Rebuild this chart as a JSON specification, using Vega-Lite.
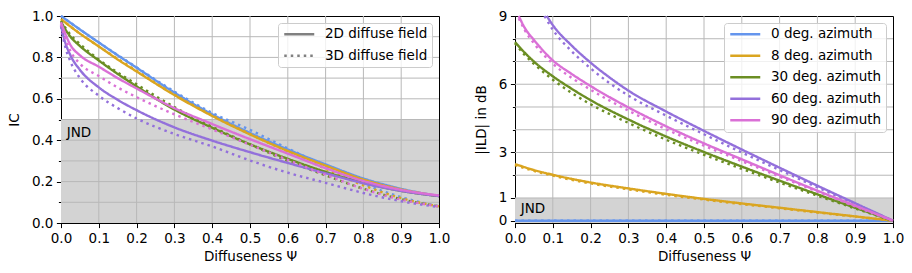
{
  "$schema": "https://vega.github.io/schema/vega-lite/v6.json",
  "padding": {"left": 6, "top": 8, "right": 0, "bottom": 0},
  "background": "white",
  "config": {
    "font": "DejaVu Sans",
    "view": {"stroke": "black", "strokeWidth": 1},
    "axis": {"labelFont": "DejaVu Sans", "labelFontSize": 13.5, "titleFont": "DejaVu Sans", "titleFontSize": 13.5, "titleFontWeight": "normal", "labelColor": "black", "titleColor": "black", "domainColor": "black", "tickColor": "black", "grid": false, "tickSize": 4.6, "labelPadding": 3.5, "domainWidth": 1, "tickWidth": 1, "labelOverlap": false},
    "legend": {"labelFont": "DejaVu Sans", "labelFontSize": 13.5, "labelColor": "black", "symbolType": "M-3,0H3", "symbolStrokeWidth": 2.5, "symbolSize": 100, "symbolOffset": 10, "rowPadding": 6.5, "padding": 4.5, "fillColor": "rgba(255,255,255,0.8)", "strokeColor": "#cccccc", "cornerRadius": 3, "labelOffset": 19, "offset": 7}
  },
  "datasets": {
    "ic": [
      {"a":0,"t":"2D","x":0,"y":1.0},{"a":0,"t":"2D","x":0.05,"y":0.935},{"a":0,"t":"2D","x":0.1,"y":0.872},{"a":0,"t":"2D","x":0.15,"y":0.81},{"a":0,"t":"2D","x":0.2,"y":0.75},{"a":0,"t":"2D","x":0.3,"y":0.63},{"a":0,"t":"2D","x":0.4,"y":0.525},{"a":0,"t":"2D","x":0.5,"y":0.435},{"a":0,"t":"2D","x":0.6,"y":0.355},{"a":0,"t":"2D","x":0.7,"y":0.283},{"a":0,"t":"2D","x":0.8,"y":0.215},{"a":0,"t":"2D","x":0.9,"y":0.165},{"a":0,"t":"2D","x":1,"y":0.13},
      {"a":0,"t":"3D","x":0,"y":1.0},{"a":0,"t":"3D","x":0.05,"y":0.935},{"a":0,"t":"3D","x":0.1,"y":0.872},{"a":0,"t":"3D","x":0.2,"y":0.752},{"a":0,"t":"3D","x":0.3,"y":0.635},{"a":0,"t":"3D","x":0.4,"y":0.532},{"a":0,"t":"3D","x":0.5,"y":0.45},{"a":0,"t":"3D","x":0.6,"y":0.36},{"a":0,"t":"3D","x":0.7,"y":0.275},{"a":0,"t":"3D","x":0.8,"y":0.19},{"a":0,"t":"3D","x":0.9,"y":0.125},{"a":0,"t":"3D","x":1,"y":0.08},
      {"a":8,"t":"2D","x":0,"y":0.985},{"a":8,"t":"2D","x":0.05,"y":0.915},{"a":8,"t":"2D","x":0.1,"y":0.853},{"a":8,"t":"2D","x":0.15,"y":0.79},{"a":8,"t":"2D","x":0.2,"y":0.732},{"a":8,"t":"2D","x":0.3,"y":0.618},{"a":8,"t":"2D","x":0.4,"y":0.517},{"a":8,"t":"2D","x":0.5,"y":0.428},{"a":8,"t":"2D","x":0.6,"y":0.348},{"a":8,"t":"2D","x":0.7,"y":0.277},{"a":8,"t":"2D","x":0.8,"y":0.21},{"a":8,"t":"2D","x":0.9,"y":0.162},{"a":8,"t":"2D","x":1,"y":0.13},
      {"a":8,"t":"3D","x":0,"y":0.985},{"a":8,"t":"3D","x":0.05,"y":0.915},{"a":8,"t":"3D","x":0.1,"y":0.853},{"a":8,"t":"3D","x":0.2,"y":0.735},{"a":8,"t":"3D","x":0.3,"y":0.62},{"a":8,"t":"3D","x":0.4,"y":0.52},{"a":8,"t":"3D","x":0.5,"y":0.43},{"a":8,"t":"3D","x":0.6,"y":0.345},{"a":8,"t":"3D","x":0.7,"y":0.262},{"a":8,"t":"3D","x":0.8,"y":0.182},{"a":8,"t":"3D","x":0.9,"y":0.12},{"a":8,"t":"3D","x":1,"y":0.08},
      {"a":30,"t":"2D","x":0,"y":0.975},{"a":30,"t":"2D","x":0.01,"y":0.94},{"a":30,"t":"2D","x":0.025,"y":0.9},{"a":30,"t":"2D","x":0.05,"y":0.855},{"a":30,"t":"2D","x":0.1,"y":0.785},{"a":30,"t":"2D","x":0.15,"y":0.72},{"a":30,"t":"2D","x":0.2,"y":0.66},{"a":30,"t":"2D","x":0.3,"y":0.548},{"a":30,"t":"2D","x":0.4,"y":0.46},{"a":30,"t":"2D","x":0.5,"y":0.38},{"a":30,"t":"2D","x":0.6,"y":0.31},{"a":30,"t":"2D","x":0.7,"y":0.247},{"a":30,"t":"2D","x":0.8,"y":0.194},{"a":30,"t":"2D","x":0.9,"y":0.155},{"a":30,"t":"2D","x":1,"y":0.13},
      {"a":30,"t":"3D","x":0,"y":0.975},{"a":30,"t":"3D","x":0.025,"y":0.91},{"a":30,"t":"3D","x":0.05,"y":0.865},{"a":30,"t":"3D","x":0.1,"y":0.79},{"a":30,"t":"3D","x":0.2,"y":0.67},{"a":30,"t":"3D","x":0.3,"y":0.56},{"a":30,"t":"3D","x":0.4,"y":0.465},{"a":30,"t":"3D","x":0.5,"y":0.38},{"a":30,"t":"3D","x":0.6,"y":0.3},{"a":30,"t":"3D","x":0.7,"y":0.23},{"a":30,"t":"3D","x":0.8,"y":0.165},{"a":30,"t":"3D","x":0.9,"y":0.115},{"a":30,"t":"3D","x":1,"y":0.08},
      {"a":60,"t":"2D","x":0,"y":0.955},{"a":60,"t":"2D","x":0.01,"y":0.88},{"a":60,"t":"2D","x":0.025,"y":0.81},{"a":60,"t":"2D","x":0.05,"y":0.74},{"a":60,"t":"2D","x":0.1,"y":0.655},{"a":60,"t":"2D","x":0.15,"y":0.595},{"a":60,"t":"2D","x":0.2,"y":0.545},{"a":60,"t":"2D","x":0.3,"y":0.462},{"a":60,"t":"2D","x":0.4,"y":0.398},{"a":60,"t":"2D","x":0.5,"y":0.342},{"a":60,"t":"2D","x":0.6,"y":0.29},{"a":60,"t":"2D","x":0.7,"y":0.24},{"a":60,"t":"2D","x":0.8,"y":0.192},{"a":60,"t":"2D","x":0.9,"y":0.155},{"a":60,"t":"2D","x":1,"y":0.13},
      {"a":60,"t":"3D","x":0,"y":0.95},{"a":60,"t":"3D","x":0.01,"y":0.86},{"a":60,"t":"3D","x":0.025,"y":0.78},{"a":60,"t":"3D","x":0.05,"y":0.7},{"a":60,"t":"3D","x":0.1,"y":0.615},{"a":60,"t":"3D","x":0.15,"y":0.555},{"a":60,"t":"3D","x":0.2,"y":0.505},{"a":60,"t":"3D","x":0.3,"y":0.43},{"a":60,"t":"3D","x":0.4,"y":0.37},{"a":60,"t":"3D","x":0.5,"y":0.302},{"a":60,"t":"3D","x":0.6,"y":0.243},{"a":60,"t":"3D","x":0.7,"y":0.194},{"a":60,"t":"3D","x":0.8,"y":0.145},{"a":60,"t":"3D","x":0.9,"y":0.105},{"a":60,"t":"3D","x":1,"y":0.077},
      {"a":90,"t":"2D","x":0,"y":0.97},{"a":90,"t":"2D","x":0.01,"y":0.92},{"a":90,"t":"2D","x":0.025,"y":0.86},{"a":90,"t":"2D","x":0.05,"y":0.81},{"a":90,"t":"2D","x":0.1,"y":0.755},{"a":90,"t":"2D","x":0.15,"y":0.7},{"a":90,"t":"2D","x":0.2,"y":0.65},{"a":90,"t":"2D","x":0.3,"y":0.555},{"a":90,"t":"2D","x":0.4,"y":0.478},{"a":90,"t":"2D","x":0.5,"y":0.405},{"a":90,"t":"2D","x":0.6,"y":0.335},{"a":90,"t":"2D","x":0.7,"y":0.265},{"a":90,"t":"2D","x":0.8,"y":0.203},{"a":90,"t":"2D","x":0.9,"y":0.16},{"a":90,"t":"2D","x":1,"y":0.133},
      {"a":90,"t":"3D","x":0,"y":0.96},{"a":90,"t":"3D","x":0.01,"y":0.9},{"a":90,"t":"3D","x":0.025,"y":0.83},{"a":90,"t":"3D","x":0.05,"y":0.77},{"a":90,"t":"3D","x":0.1,"y":0.71},{"a":90,"t":"3D","x":0.15,"y":0.655},{"a":90,"t":"3D","x":0.2,"y":0.608},{"a":90,"t":"3D","x":0.3,"y":0.525},{"a":90,"t":"3D","x":0.4,"y":0.452},{"a":90,"t":"3D","x":0.5,"y":0.378},{"a":90,"t":"3D","x":0.6,"y":0.305},{"a":90,"t":"3D","x":0.7,"y":0.233},{"a":90,"t":"3D","x":0.8,"y":0.165},{"a":90,"t":"3D","x":0.9,"y":0.113},{"a":90,"t":"3D","x":1,"y":0.08}
    ],
    "ild": [
      {"a":0,"t":"2D","x":0,"y":0},{"a":0,"t":"2D","x":0.5,"y":0},{"a":0,"t":"2D","x":1,"y":0},
      {"a":0,"t":"3D","x":0,"y":0},{"a":0,"t":"3D","x":0.5,"y":0},{"a":0,"t":"3D","x":1,"y":0},
      {"a":8,"t":"2D","x":0,"y":2.49},{"a":8,"t":"2D","x":0.05,"y":2.23},{"a":8,"t":"2D","x":0.1,"y":2.02},{"a":8,"t":"2D","x":0.2,"y":1.68},{"a":8,"t":"2D","x":0.3,"y":1.42},{"a":8,"t":"2D","x":0.4,"y":1.18},{"a":8,"t":"2D","x":0.5,"y":0.96},{"a":8,"t":"2D","x":0.6,"y":0.76},{"a":8,"t":"2D","x":0.7,"y":0.57},{"a":8,"t":"2D","x":0.8,"y":0.38},{"a":8,"t":"2D","x":0.9,"y":0.19},{"a":8,"t":"2D","x":1,"y":0},
      {"a":8,"t":"3D","x":0,"y":2.45},{"a":8,"t":"3D","x":0.05,"y":2.19},{"a":8,"t":"3D","x":0.1,"y":1.98},{"a":8,"t":"3D","x":0.2,"y":1.64},{"a":8,"t":"3D","x":0.3,"y":1.38},{"a":8,"t":"3D","x":0.4,"y":1.14},{"a":8,"t":"3D","x":0.5,"y":0.93},{"a":8,"t":"3D","x":0.6,"y":0.73},{"a":8,"t":"3D","x":0.7,"y":0.55},{"a":8,"t":"3D","x":0.8,"y":0.36},{"a":8,"t":"3D","x":0.9,"y":0.18},{"a":8,"t":"3D","x":1,"y":0},
      {"a":30,"t":"2D","x":0,"y":7.85},{"a":30,"t":"2D","x":0.025,"y":7.4},{"a":30,"t":"2D","x":0.05,"y":7.0},{"a":30,"t":"2D","x":0.1,"y":6.35},{"a":30,"t":"2D","x":0.15,"y":5.8},{"a":30,"t":"2D","x":0.2,"y":5.3},{"a":30,"t":"2D","x":0.3,"y":4.45},{"a":30,"t":"2D","x":0.4,"y":3.7},{"a":30,"t":"2D","x":0.5,"y":3.02},{"a":30,"t":"2D","x":0.6,"y":2.38},{"a":30,"t":"2D","x":0.7,"y":1.76},{"a":30,"t":"2D","x":0.8,"y":1.16},{"a":30,"t":"2D","x":0.9,"y":0.57},{"a":30,"t":"2D","x":1,"y":0},
      {"a":30,"t":"3D","x":0,"y":7.8},{"a":30,"t":"3D","x":0.025,"y":7.3},{"a":30,"t":"3D","x":0.05,"y":6.9},{"a":30,"t":"3D","x":0.1,"y":6.2},{"a":30,"t":"3D","x":0.15,"y":5.62},{"a":30,"t":"3D","x":0.2,"y":5.12},{"a":30,"t":"3D","x":0.3,"y":4.3},{"a":30,"t":"3D","x":0.4,"y":3.56},{"a":30,"t":"3D","x":0.5,"y":2.9},{"a":30,"t":"3D","x":0.6,"y":2.28},{"a":30,"t":"3D","x":0.7,"y":1.68},{"a":30,"t":"3D","x":0.8,"y":1.1},{"a":30,"t":"3D","x":0.9,"y":0.54},{"a":30,"t":"3D","x":1,"y":0},
      {"a":60,"t":"2D","x":0.084,"y":9.0},{"a":60,"t":"2D","x":0.1,"y":8.6},{"a":60,"t":"2D","x":0.15,"y":7.7},{"a":60,"t":"2D","x":0.2,"y":6.95},{"a":60,"t":"2D","x":0.25,"y":6.3},{"a":60,"t":"2D","x":0.3,"y":5.72},{"a":60,"t":"2D","x":0.4,"y":4.8},{"a":60,"t":"2D","x":0.5,"y":3.95},{"a":60,"t":"2D","x":0.6,"y":3.13},{"a":60,"t":"2D","x":0.7,"y":2.33},{"a":60,"t":"2D","x":0.8,"y":1.54},{"a":60,"t":"2D","x":0.9,"y":0.77},{"a":60,"t":"2D","x":1,"y":0},
      {"a":60,"t":"3D","x":0.078,"y":9.0},{"a":60,"t":"3D","x":0.1,"y":8.4},{"a":60,"t":"3D","x":0.15,"y":7.45},{"a":60,"t":"3D","x":0.2,"y":6.7},{"a":60,"t":"3D","x":0.25,"y":6.05},{"a":60,"t":"3D","x":0.3,"y":5.5},{"a":60,"t":"3D","x":0.4,"y":4.62},{"a":60,"t":"3D","x":0.5,"y":3.8},{"a":60,"t":"3D","x":0.6,"y":3.0},{"a":60,"t":"3D","x":0.7,"y":2.23},{"a":60,"t":"3D","x":0.8,"y":1.47},{"a":60,"t":"3D","x":0.9,"y":0.73},{"a":60,"t":"3D","x":1,"y":0},
      {"a":90,"t":"2D","x":0.01,"y":9.0},{"a":90,"t":"2D","x":0.025,"y":8.5},{"a":90,"t":"2D","x":0.05,"y":7.95},{"a":90,"t":"2D","x":0.1,"y":7.05},{"a":90,"t":"2D","x":0.15,"y":6.45},{"a":90,"t":"2D","x":0.2,"y":5.92},{"a":90,"t":"2D","x":0.3,"y":4.98},{"a":90,"t":"2D","x":0.4,"y":4.15},{"a":90,"t":"2D","x":0.5,"y":3.4},{"a":90,"t":"2D","x":0.6,"y":2.7},{"a":90,"t":"2D","x":0.7,"y":2.0},{"a":90,"t":"2D","x":0.8,"y":1.32},{"a":90,"t":"2D","x":0.9,"y":0.66},{"a":90,"t":"2D","x":1,"y":0},
      {"a":90,"t":"3D","x":0.01,"y":8.9},{"a":90,"t":"3D","x":0.025,"y":8.4},{"a":90,"t":"3D","x":0.05,"y":7.8},{"a":90,"t":"3D","x":0.1,"y":6.9},{"a":90,"t":"3D","x":0.15,"y":6.28},{"a":90,"t":"3D","x":0.2,"y":5.76},{"a":90,"t":"3D","x":0.3,"y":4.84},{"a":90,"t":"3D","x":0.4,"y":4.02},{"a":90,"t":"3D","x":0.5,"y":3.3},{"a":90,"t":"3D","x":0.6,"y":2.62},{"a":90,"t":"3D","x":0.7,"y":1.94},{"a":90,"t":"3D","x":0.8,"y":1.28},{"a":90,"t":"3D","x":0.9,"y":0.63},{"a":90,"t":"3D","x":1,"y":0}
    ],
    "gx": [{"v":0.1},{"v":0.2},{"v":0.3},{"v":0.4},{"v":0.5},{"v":0.6},{"v":0.7},{"v":0.8},{"v":0.9}],
    "gyl": [{"v":0.1},{"v":0.2},{"v":0.3},{"v":0.4},{"v":0.5},{"v":0.6},{"v":0.7},{"v":0.8},{"v":0.9}],
    "gyr": [{"v":1},{"v":2},{"v":3},{"v":4},{"v":5},{"v":6},{"v":7},{"v":8}]
  },
  "hconcat": [
    {
      "width": 378, "height": 207,
      "layer": [
        {"data": {"values": [{"x0":0,"x1":1,"y0":0,"y1":0.5}]}, "mark": {"type": "rect", "fill": "#d3d3d3"},
         "encoding": {
           "x": {"field": "x0", "type": "quantitative", "scale": {"domain": [0,1], "nice": false},
                 "axis": {"title": "Diffuseness Ψ", "values": [0,0.1,0.2,0.3,0.4,0.5,0.6,0.7,0.8,0.9,1.0], "tickCount": 30, "format": ".1f", "labelFlush": false, "labelOverlap": false, "titlePadding": 5}},
           "x2": {"field": "x1"},
           "y": {"field": "y0", "type": "quantitative", "scale": {"domain": [0,1], "nice": false},
                 "axis": {"title": "IC", "values": [0,0.1,0.2,0.3,0.4,0.5,0.6,0.7,0.8,0.9,1.0], "tickCount": 30, "labelExpr": "round(datum.value*10)%2==0 ? format(datum.value,'.1f') : ''", "tickSize": {"condition": {"test": "round(datum.value*10)%2==0", "value": 4.6}, "value": 2.6}, "labelFlush": false, "labelOverlap": false, "titlePadding": 10}},
           "y2": {"field": "y1"}}},
        {"data": {"name": "gx"}, "mark": {"type": "rule", "color": "#b8b8b8", "strokeWidth": 1}, "encoding": {"x": {"field": "v", "type": "quantitative"}}},
        {"data": {"name": "gyl"}, "mark": {"type": "rule", "color": "#b8b8b8", "strokeWidth": 1}, "encoding": {"y": {"field": "v", "type": "quantitative"}}},
        {"data": {"name": "ic"}, "mark": {"type": "line", "strokeWidth": 2.4, "interpolate": "monotone", "strokeCap": "butt"},
         "encoding": {
           "x": {"field": "x", "type": "quantitative"},
           "y": {"field": "y", "type": "quantitative"},
           "color": {"field": "a", "type": "ordinal", "scale": {"domain": [0,8,30,60,90], "range": ["#6495ED","#DAA520","#6B8E23","#9370DB","#DA70D6"]}, "legend": null},
           "strokeDash": {"field": "t", "type": "nominal", "scale": {"domain": ["2D","3D"], "range": [[1,0],[2.5,4]]},
                          "legend": {"title": null, "orient": "top-right", "labelExpr": "datum.label + ' diffuse field'", "symbolStrokeColor": "#808080"}},
           "order": {"field": "a", "type": "quantitative"}
         }},
        {"data": {"values": [{"x":0.015,"y":0.435,"s":"JND"}]}, "mark": {"type": "text", "align": "left", "baseline": "middle", "fontSize": 13.5, "font": "DejaVu Sans", "color": "black"},
         "encoding": {"x": {"field": "x", "type": "quantitative"}, "y": {"field": "y", "type": "quantitative"}, "text": {"field": "s"}}}
      ]
    },
    {
      "width": 378, "height": 207,
      "layer": [
        {"data": {"values": [{"x0":0,"x1":1,"y0":-0.1,"y1":1}]}, "mark": {"type": "rect", "fill": "#d3d3d3"},
         "encoding": {
           "x": {"field": "x0", "type": "quantitative", "scale": {"domain": [0,1], "nice": false},
                 "axis": {"title": "Diffuseness Ψ", "values": [0,0.1,0.2,0.3,0.4,0.5,0.6,0.7,0.8,0.9,1.0], "tickCount": 30, "format": ".1f", "labelFlush": false, "labelOverlap": false, "titlePadding": 5}},
           "x2": {"field": "x1"},
           "y": {"field": "y0", "type": "quantitative", "scale": {"domain": [-0.1,9], "nice": false},
                 "axis": {"title": "|ILD| in dB", "values": [0,1,2,3,4,5,6,7,8,9], "tickCount": 30, "labelExpr": "indexof([0,1,3,6,9], datum.value) >= 0 ? format(datum.value,'d') : ''", "tickSize": {"condition": {"test": "indexof([0,1,3,6,9], datum.value) >= 0", "value": 4.6}, "value": 2.6}, "labelFlush": false, "labelOverlap": false, "titlePadding": 10}},
           "y2": {"field": "y1"}}},
        {"data": {"name": "gx"}, "mark": {"type": "rule", "color": "#b8b8b8", "strokeWidth": 1}, "encoding": {"x": {"field": "v", "type": "quantitative"}}},
        {"data": {"name": "gyr"}, "mark": {"type": "rule", "color": "#b8b8b8", "strokeWidth": 1}, "encoding": {"y": {"field": "v", "type": "quantitative"}}},
        {"data": {"name": "ild"}, "mark": {"type": "line", "strokeWidth": 2.4, "interpolate": "monotone", "strokeCap": "butt"},
         "encoding": {
           "x": {"field": "x", "type": "quantitative"},
           "y": {"field": "y", "type": "quantitative"},
           "color": {"field": "a", "type": "ordinal", "scale": {"domain": [0,8,30,60,90], "range": ["#6495ED","#DAA520","#6B8E23","#9370DB","#DA70D6"]},
                     "legend": {"title": null, "orient": "top-right", "labelExpr": "datum.label + ' deg. azimuth'"}},
           "strokeDash": {"field": "t", "type": "nominal", "scale": {"domain": ["2D","3D"], "range": [[1,0],[2.5,4]]}, "legend": null},
           "order": {"field": "a", "type": "quantitative"}
         }},
        {"data": {"values": [{"x":0.015,"y":0.5,"s":"JND"}]}, "mark": {"type": "text", "align": "left", "baseline": "middle", "fontSize": 13.5, "font": "DejaVu Sans", "color": "black"},
         "encoding": {"x": {"field": "x", "type": "quantitative"}, "y": {"field": "y", "type": "quantitative"}, "text": {"field": "s"}}}
      ]
    }
  ],
  "spacing": 76,
  "bounds": "flush",
  "resolve": {"legend": {"color": "independent", "strokeDash": "independent"}, "scale": {"y": "independent", "x": "independent"}}
}
